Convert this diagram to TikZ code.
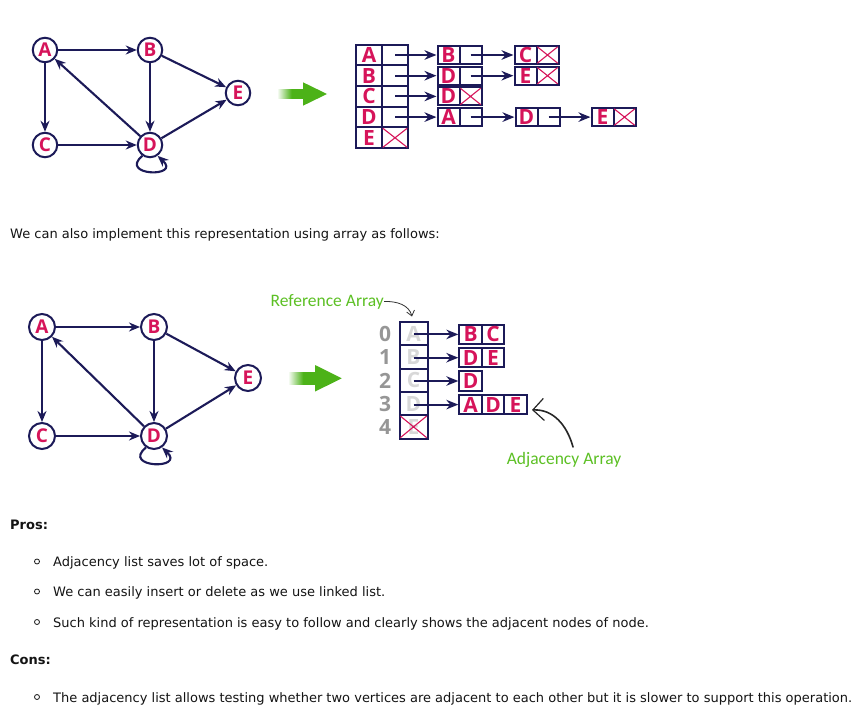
\documentclass[tikz,border=0pt]{standalone}
\usepackage{fontspec}
\setmainfont{DejaVu Sans}
\newfontfamily\nodefont{Open Sans}
\newfontfamily\calloutfont{Carlito}
\usetikzlibrary{arrows.meta}
\definecolor{navy}{RGB}{28,26,88}
\definecolor{crim}{RGB}{214,20,90}
\definecolor{garrow}{RGB}{76,178,24}
\definecolor{glabel}{RGB}{92,192,36}
\definecolor{idx}{RGB}{150,150,150}
\definecolor{ghost}{RGB}{216,216,216}
\definecolor{bodytext}{RGB}{20,20,20}
\pgfdeclarehorizontalshading{arrowfade}{100bp}{color(0bp)=(white); color(25bp)=(white); color(52bp)=(garrow); color(100bp)=(garrow)}
\newcommand\xcell[1]{\draw[xl] ([shift={(1.8,1.8)}]#1.north west) -- ([shift={(-1.8,-1.8)}]#1.south east) ([shift={(-1.8,1.8)}]#1.north east) -- ([shift={(1.8,-1.8)}]#1.south west);}
\begin{document}
\begin{tikzpicture}[x=1pt,y=-1pt,
 vtx/.style={circle, draw=navy, line width=2, fill=white, minimum size=24.5, inner sep=0, text=crim, font=\nodefont\bfseries\fontsize{19}{19}\selectfont},
 edge/.style={draw=navy, line width=2.1, -{Stealth[length=11,width=9]}},
 ptr/.style={draw=navy, line width=2.1, -{Stealth[length=12,width=9.5]}},
 cell/.style={rectangle, draw=navy, line width=2, inner sep=0, text=crim, font=\nodefont\bfseries\fontsize{21}{21}\selectfont},
 mainc/.style={cell, minimum width=26, minimum height=20.7},
 lnode/.style={cell, minimum width=22, minimum height=18},
 refc/.style={cell, minimum width=28, minimum height=23.3, text=ghost},
 adjc/.style={cell, minimum width=22.5, minimum height=19.5},
 idxs/.style={text=idx, inner sep=0, font=\nodefont\bfseries\fontsize{21}{21}\selectfont},
 xl/.style={draw=crim, line width=1.1},
 body/.style={inner sep=0, text=bodytext, font=\fontsize{13}{15}\selectfont},
 bodyb/.style={body, font=\bfseries\fontsize{13}{15}\selectfont},
 bul/.style={circle, draw=bodytext, line width=0.8, minimum size=5, inner sep=0},
 callout/.style={text=glabel, inner sep=0, font=\calloutfont\fontsize{17.5}{17.5}\selectfont},
 callarrow/.style={draw=black!80, line width=0.8, -{Straight Barb[length=5,width=8]}}
]
\fill[white] (0,0) rectangle (868,720);
\useasboundingbox (0,0) rectangle (868,720);

% ---------- top graph ----------
\node[vtx] (A) at (45,50) {A};
\node[vtx] (B) at (150,50) {B};
\node[vtx] (E) at (238,93) {E};
\node[vtx] (C) at (45,145) {C};
\node[vtx] (D) at (150,145) {D};
\draw[edge] (A) -- (B);
\draw[edge] (A) -- (C);
\draw[edge] (B) -- (D);
\draw[edge] (B) -- (E);
\draw[edge] (C) -- (D);
\draw[edge] (D) -- (A);
\draw[edge] (D) -- (E);
\draw[edge] (D.235) .. controls (118,176) and (182,178) .. (D.-55);

% top green arrow
\shade[shading=arrowfade] (277,89.5) rectangle (304,98.5);
\fill[garrow] (303,82.3) -- (327,94) -- (303,105.7) -- cycle;

% ---------- top linked lists ----------
\node[mainc] (mA) at (369,55) {A};   \node[mainc] (pA) at (395,55) {};
\node[mainc] (mB) at (369,75.7) {B}; \node[mainc] (pB) at (395,75.7) {};
\node[mainc] (mC) at (369,96.4) {C}; \node[mainc] (pC) at (395,96.4) {};
\node[mainc] (mD) at (369,117.1) {D};\node[mainc] (pD) at (395,117.1) {};
\node[mainc] (mE) at (369,137.8) {E};\node[mainc] (pE) at (395,137.8) {};
\xcell{pE}

\node[lnode] (aB) at (448.5,55) {B};  \node[lnode] (aBp) at (470.5,55) {};
\node[lnode] (aC) at (525.5,55) {C};  \node[lnode] (aCp) at (547.5,55) {};
\xcell{aCp}
\node[lnode] (bD) at (448.5,75.7) {D}; \node[lnode] (bDp) at (470.5,75.7) {};
\node[lnode] (bE) at (525.5,75.7) {E}; \node[lnode] (bEp) at (547.5,75.7) {};
\xcell{bEp}
\node[lnode] (cD) at (448.5,96.4) {D}; \node[lnode] (cDp) at (470.5,96.4) {};
\xcell{cDp}
\node[lnode] (dA) at (448.5,117.1) {A}; \node[lnode] (dAp) at (470.5,117.1) {};
\node[lnode] (dD) at (526.5,117.1) {D}; \node[lnode] (dDp) at (548.5,117.1) {};
\node[lnode] (dE) at (602.5,117.1) {E}; \node[lnode] (dEp) at (624.5,117.1) {};
\xcell{dEp}

\draw[ptr] (pA.center) -- (aB.west);
\draw[ptr] (aBp.center) -- (aC.west);
\draw[ptr] (pB.center) -- (bD.west);
\draw[ptr] (bDp.center) -- (bE.west);
\draw[ptr] (pC.center) -- (cD.west);
\draw[ptr] (pD.center) -- (dA.west);
\draw[ptr] (dAp.center) -- (dD.west);
\draw[ptr] (dDp.center) -- (dE.west);

% ---------- middle sentence ----------
\node[body, anchor=base west] (t1) at (10,238) {We can also implement this representation using array as follows:};

% ---------- bottom graph ----------
\node[vtx, minimum size=26] (A2) at (42,327) {A};
\node[vtx, minimum size=26] (B2) at (154,327) {B};
\node[vtx, minimum size=26] (E2) at (248,378) {E};
\node[vtx, minimum size=26] (C2) at (42,436) {C};
\node[vtx, minimum size=26] (D2) at (154,436) {D};
\draw[edge] (A2) -- (B2);
\draw[edge] (A2) -- (C2);
\draw[edge] (B2) -- (D2);
\draw[edge] (B2) -- (E2);
\draw[edge] (C2) -- (D2);
\draw[edge] (D2) -- (A2);
\draw[edge] (D2) -- (E2);
\draw[edge] (D2.235) .. controls (121,468) and (186,470) .. (D2.-55);

% bottom green arrow
\shade[shading=arrowfade] (288,372.5) rectangle (316,384.1);
\fill[garrow] (315,365) -- (341.7,378.3) -- (315,391.6) -- cycle;

% ---------- reference array ----------
\node[refc] (r0) at (413.5,333.65) {A};
\node[refc] (r1) at (413.5,356.95) {B};
\node[refc] (r2) at (413.5,380.25) {C};
\node[refc] (r3) at (413.5,403.55) {D};
\node[refc] (r4) at (413.5,426.85) {E};
\xcell{r4}
\node[idxs] (i0) at (385,334.2) {0};
\node[idxs] (i1) at (385,357.5) {1};
\node[idxs] (i2) at (385,380.8) {2};
\node[idxs] (i3) at (385,404.1) {3};
\node[idxs] (i4) at (385,427.4) {4};

% adjacency arrays
\node[adjc] (a0a) at (470.6,334.4) {B}; \node[adjc] (a0b) at (493.1,334.4) {C};
\node[adjc] (a1a) at (470.6,357.7) {D}; \node[adjc] (a1b) at (493.1,357.7) {E};
\node[adjc] (a2a) at (470.6,381.0) {D};
\node[adjc] (a3a) at (470.6,404.6) {A}; \node[adjc] (a3b) at (493.1,404.6) {D}; \node[adjc] (a3c) at (515.6,404.6) {E};

\draw[ptr] (r0.center |- a0a.west) -- (a0a.west);
\draw[ptr] (r1.center |- a1a.west) -- (a1a.west);
\draw[ptr] (r2.center |- a2a.west) -- (a2a.west);
\draw[ptr] (r3.center |- a3a.west) -- (a3a.west);

% callouts
\node[callout, anchor=east] (ra) at (384,301.5) {Reference Array};
\coordinate (raT) at (412,316.5);
\draw[callarrow] (ra.east) .. controls (397,301) and (409,305) .. (raT);

\node[callout] (aa) at (564,460) {Adjacency Array};
\coordinate (aaS) at (573,447);
\coordinate (aaT) at (532,410);
\draw[draw=black!85, line width=1.6, line cap=round, -{Straight Barb[length=11,width=22,line width=1.2]}] (aaS) .. controls (567,425) and (553,409) .. (aaT);

% ---------- pros / cons ----------
\node[bodyb, anchor=base west] (pros) at (10,529) {Pros:};
\node[bul] (u1) at (37,561.5) {};
\node[body, anchor=base west] (l1) at (53,566.5) {Adjacency list saves lot of space.};
\node[bul] (u2) at (37,591.5) {};
\node[body, anchor=base west] (l2) at (53,596.5) {We can easily insert or delete as we use linked list.};
\node[bul] (u3) at (37,622) {};
\node[body, anchor=base west] (l3) at (53,627) {Such kind of representation is easy to follow and clearly shows the adjacent nodes of node.};
\node[bodyb, anchor=base west] (cons) at (10,664) {Cons:};
\node[bul] (u4) at (37,697) {};
\node[body, anchor=base west] (l4) at (53,702) {The adjacency list allows testing whether two vertices are adjacent to each other but it is slower to support this operation.};
\end{tikzpicture}
\end{document}
